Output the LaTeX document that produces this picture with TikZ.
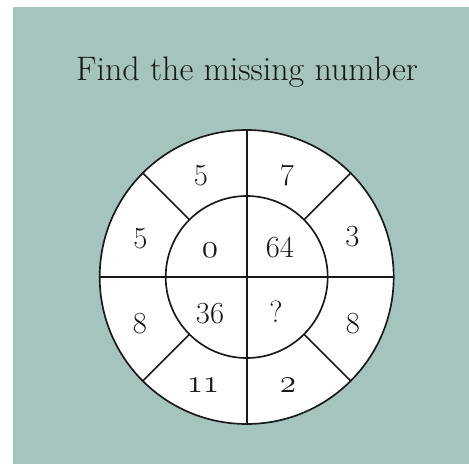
\documentclass[tikz,border=0pt]{standalone}
\usepackage{xcolor}
\usepackage{tikz}
\usetikzlibrary{calc}
\definecolor{mysage}{RGB}{166,196,190}
\definecolor{mydark}{RGB}{25,25,25}
\tikzset{
  ring/.style={circle, draw=mydark, fill=white, line width=1.25pt,
    inner sep=0pt, outer sep=0pt},
  spoke/.style={draw=mydark, line width=1.25pt},
  num/.style={anchor=base, inner sep=0pt, text=mydark,
    font=\fontsize{23}{27}\selectfont},
  smallnum/.style={num, font=\fontsize{27}{31}\selectfont},
  headline/.style={anchor=base, inner sep=0pt, text=mydark,
    font=\fontsize{25.5}{30}\selectfont}
}

\begin{document}
\begin{tikzpicture}[x=0.75pt, y=-0.75pt]
  \useasboundingbox (0,0) rectangle (469,465);
  \fill[white] (0,0) rectangle (469,465);
  \fill[mysage] (13,7) rectangle (469,464);

  \node[headline] (head) at (247,80) {Find the missing number};

  \node[ring, minimum size=220.5pt] (outer) at (246.7,277) {};
  \node[ring, minimum size=121.5pt] (inner) at (outer.center) {};
  \draw[spoke] (outer.north) -- (outer.south);
  \draw[spoke] (outer.west) -- (outer.east);
  \foreach \a in {45,135,225,315}
    \draw[spoke] (inner.\a) -- (outer.\a);

  \node[num] (otopl) at (201,185) {5};
  \node[num] (otopr) at (287,185) {7};
  \node[num] (oleftu) at (140.5,248) {5};
  \node[num] (orightu) at (352.5,246.5) {3};
  \node[num] (oleftd) at (140,333) {8};
  \node[num] (orightd) at (353,333) {8};
  \node[smallnum] (obotl) at (203,392) {\legacyoldstylenums{11}};
  \node[smallnum] (obotr) at (288,392) {\legacyoldstylenums{2}};

  \node[smallnum] (itl) at (210,257) {\legacyoldstylenums{0}};
  \node[num] (itr) at (280,257) {64};
  \node[num] (ibl) at (210,323) {36};
  \node[num] (ibr) at (276,322) {?};
\end{tikzpicture}
\end{document}
